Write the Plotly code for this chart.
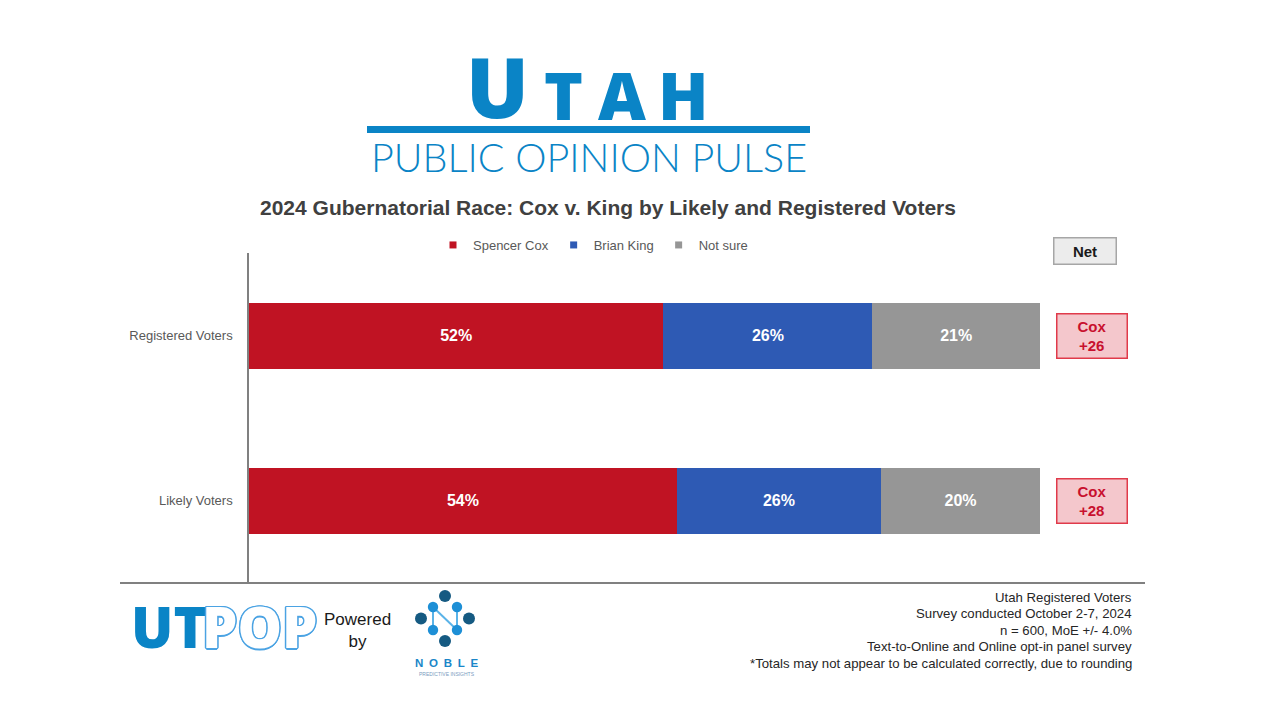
import plotly.graph_objects as go

# ---------------- data ----------------
categories = ["Registered Voters", "Likely Voters"]
series_names = ["Spencer Cox", "Brian King", "Not sure"]
cox = [52.4, 54.1]
king = [26.4, 25.8]
not_sure = [21.2, 20.1]
series_values = [cox, king, not_sure]
series_colors = ["#c01323", "#2e5ab4", "#969696"]

title_text = "2024 Gubernatorial Race: Cox v. King by Likely and Registered Voters"
footnotes = [
    "Utah Registered Voters",
    "Survey conducted October 2-7, 2024",
    "n = 600, MoE +/- 4.0%",
    "Text-to-Online and Online opt-in panel survey",
    "*Totals may not appear to be calculated correctly, due to rounding",
]

FONT = "Liberation Sans, Arial, sans-serif"
LOGO_BLUE = "#0a84c6"

# page body has an 8px margin; figure sized to fit the window
OFF = 8
W, H = 1264, 697
L = 249 - OFF
T = 253 - OFF
PW = 791
PH = 330
R = W - L - PW
B = H - T - PH


def px(x):
    """page pixel x -> paper coordinate"""
    return (x - OFF - L) / PW


def py(y):
    """page pixel y -> paper coordinate"""
    return (T + PH - (y - OFF)) / PH


fig = go.Figure()

for name, vals, col in zip(series_names, series_values, series_colors):
    fig.add_trace(go.Bar(
        y=categories, x=vals, orientation="h", name=name,
        marker=dict(color=col, line=dict(width=0)), width=0.4,
        text=[f"{round(v)}%" for v in vals], textposition="inside",
        insidetextanchor="middle", textangle=0,
        textfont=dict(color="white", size=16, family=FONT, weight="bold"),
        showlegend=False, hoverinfo="skip",
    ))
    fig.add_trace(go.Scatter(
        x=[None], y=[None], mode="markers", name=name,
        marker=dict(symbol="square", size=7, color=col), hoverinfo="skip",
    ))

annotations = []

# net boxes
annotations.append(dict(
    x=px(1084.5), y=py(251.5), xref="paper", yref="paper", text="<b>Net</b>",
    showarrow=False, font=dict(size=15, color="#1a1a1a", family=FONT),
    bgcolor="#ececec", bordercolor="#a6a6a6", borderwidth=1.5,
    width=59, height=23, xanchor="center", yanchor="middle",
))
for cat, c, k in zip(categories, cox, king):
    net = round(c - k)
    annotations.append(dict(
        x=px(1091.5), y=cat, xref="paper", yref="y",
        text=f"<b>Cox<br>+{net}</b>", showarrow=False,
        font=dict(size=15, color="#c8102e", family=FONT),
        bgcolor="#f4c7cc", bordercolor="#e03a4a", borderwidth=1.5,
        width=67, height=41, xanchor="center", yanchor="middle",
    ))

# title
annotations.append(dict(
    x=px(608), y=py(207), xref="paper", yref="paper", text=f"<b>{title_text}</b>",
    showarrow=False, font=dict(size=21, color="#404040", family=FONT),
    xanchor="center", yanchor="middle",
))

# UTAH logo letters
for letter, cx, size, cy in [("U", 497, 83, 85), ("T", 563, 66, 94),
                             ("A", 622, 66, 94), ("H", 683, 66, 94)]:
    annotations.append(dict(
        x=px(cx), y=py(cy), xref="paper", yref="paper", text=letter,
        showarrow=False, font=dict(size=size, color=LOGO_BLUE, family="Open Sans, Lato, sans-serif", weight=800),
        xanchor="center", yanchor="middle",
    ))
annotations.append(dict(
    x=px(588.5), y=py(157), xref="paper", yref="paper", text="PUBLIC OPINION PULSE",
    showarrow=False, font=dict(size=39.5, color=LOGO_BLUE, family="Lato, Open Sans, sans-serif", weight=300),
    xanchor="center", yanchor="middle",
))

# UTPOP logo
annotations.append(dict(
    x=px(168), y=py(626), xref="paper", yref="paper", text="UT",
    showarrow=False, font=dict(size=56, color=LOGO_BLUE, family="Open Sans, sans-serif", weight=800),
    xanchor="center", yanchor="middle",
))
outline = "#4ba3e3"
annotations.append(dict(
    x=px(259), y=py(626), xref="paper", yref="paper", text="POP",
    showarrow=False,
    font=dict(size=56, color="white", family="Open Sans, sans-serif", weight=800,
              shadow=f"1.5px 0 0 {outline}, -1.5px 0 0 {outline}, 0 1.5px 0 {outline}, 0 -1.5px 0 {outline}, 1px 1px 0 {outline}, -1px -1px 0 {outline}, 1px -1px 0 {outline}, -1px 1px 0 {outline}"),
    xanchor="center", yanchor="middle",
))
annotations.append(dict(
    x=px(357), y=py(630), xref="paper", yref="paper", text="Powered<br>by",
    showarrow=False, font=dict(size=17, color="#1a1a1a", family=FONT),
    xanchor="center", yanchor="middle",
))
# NOBLE text
annotations.append(dict(
    x=px(446.5), y=py(663), xref="paper", yref="paper", text="<b>N\u2002O\u2002B\u2002L\u2002E</b>",
    showarrow=False, font=dict(size=11.5, color="#1a86c8", family=FONT),
    xanchor="center", yanchor="middle",
))
annotations.append(dict(
    x=px(446.5), y=py(674), xref="paper", yref="paper", text="PREDICTIVE INSIGHTS",
    showarrow=False, font=dict(size=5, color="#7a9cc0", family=FONT),
    xanchor="center", yanchor="middle",
))

# footnotes
for i, line in enumerate(footnotes):
    annotations.append(dict(
        x=px(1134), y=py(597 + 16.5 * i), xref="paper", yref="paper", text=line,
        showarrow=False, font=dict(size=13.2, color="#262626", family=FONT),
        xanchor="right", yanchor="middle",
    ))

shapes = []
# bottom rule
shapes.append(dict(type="line", xref="paper", yref="paper", x0=px(120), x1=px(1145),
                   y0=py(583), y1=py(583), line=dict(color="#808080", width=1.8)))
# UTAH rule
shapes.append(dict(type="rect", xref="paper", yref="paper", x0=px(367), x1=px(810),
                   y0=py(133), y1=py(126), fillcolor=LOGO_BLUE, line=dict(width=0)))


def circle(cx, cy, r, color):
    return dict(type="circle", xref="paper", yref="paper",
                x0=px(cx - r), x1=px(cx + r), y0=py(cy + r), y1=py(cy - r),
                fillcolor=color, line=dict(width=0))


def seg(x0, y0, x1, y1, color):
    return dict(type="line", xref="paper", yref="paper", x0=px(x0), x1=px(x1),
                y0=py(y0), y1=py(y1), line=dict(color=color, width=2))


light = "#5ab3e8"
shapes += [seg(433, 607, 433, 630, light), seg(433, 607, 457, 630, light),
           seg(457, 607, 457, 630, light)]
dark = "#155a82"
blue = "#1d8fd6"
for cx, cy in [(445, 596), (421, 618.5), (469, 618.5), (445, 641)]:
    shapes.append(circle(cx, cy, 6, dark))
for cx, cy in [(433, 607), (457, 607), (433, 630), (457, 630)]:
    shapes.append(circle(cx, cy, 5.2, blue))

fig.update_layout(
    width=W, height=H,
    margin=dict(l=L, r=R, t=T, b=B, pad=0),
    paper_bgcolor="white", plot_bgcolor="white",
    barmode="stack", bargap=0.6,
    font=dict(family=FONT, color="#595959"),
    xaxis=dict(range=[0, 100], visible=False, fixedrange=True),
    yaxis=dict(range=[1.5, -0.5], showgrid=False, zeroline=False, showline=True,
               linecolor="#808080", linewidth=1.5, ticks="", ticklabelstandoff=12,
               tickfont=dict(size=13, color="#595959", family=FONT), fixedrange=True),
    legend=dict(orientation="h", x=px(593), xanchor="center", y=py(245), yanchor="middle",
                font=dict(size=13, color="#595959", family=FONT), itemwidth=30,
                bgcolor="rgba(0,0,0,0)", traceorder="normal"),
    annotations=annotations, shapes=shapes,
    showlegend=True,
)

fig.write_html("out.html")
